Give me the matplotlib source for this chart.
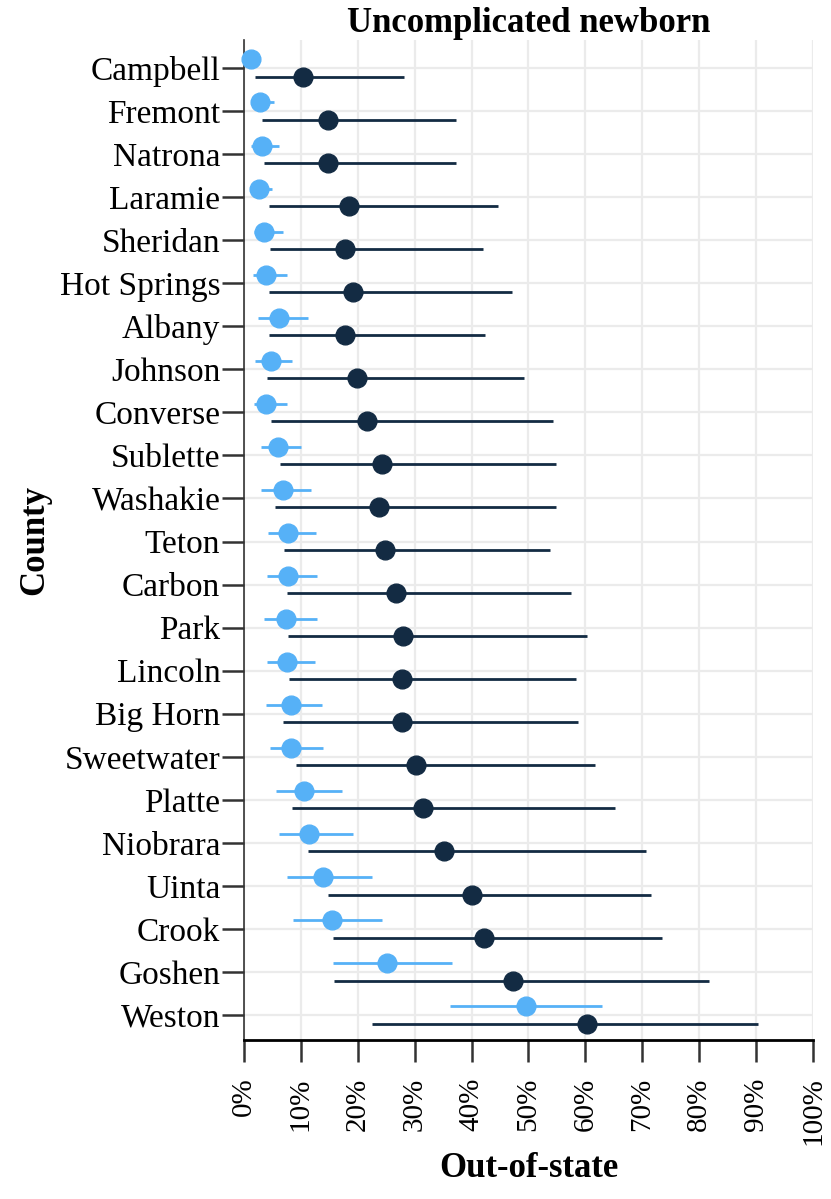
import matplotlib
matplotlib.use("Agg")
import matplotlib.pyplot as plt
import numpy as np

counties = ["Campbell", "Fremont", "Natrona", "Laramie", "Sheridan", "Hot Springs",
            "Albany", "Johnson", "Converse", "Sublette", "Washakie", "Teton", "Carbon",
            "Park", "Lincoln", "Big Horn", "Sweetwater", "Platte", "Niobrara", "Uinta",
            "Crook", "Goshen", "Weston"]

# light series (upper dot in each row)
light_est = [1.3, 2.8, 3.2, 2.6, 3.6, 3.8, 6.1, 4.8, 3.8, 5.9, 6.9, 7.7, 7.7,
             7.4, 7.5, 8.3, 8.3, 10.6, 11.5, 13.9, 15.5, 25.1, 49.6]
light_lo = [0.4, 1.2, 1.3, 1.0, 1.7, 1.5, 2.4, 1.9, 1.8, 3.0, 3.0, 4.2, 4.1,
            3.6, 4.0, 3.8, 4.5, 5.7, 6.1, 7.6, 8.7, 15.7, 36.2]
light_hi = [2.6, 5.3, 6.2, 5.0, 6.9, 7.5, 11.2, 8.4, 7.6, 10.1, 11.8, 12.6, 12.8,
            12.9, 12.5, 13.7, 13.9, 17.2, 19.1, 22.5, 24.3, 36.6, 62.9]

# dark series (lower dot in each row)
dark_est = [10.4, 14.7, 14.7, 18.5, 17.8, 19.2, 17.8, 19.9, 21.6, 24.2, 23.7, 24.8, 26.8,
            28.0, 27.8, 27.8, 30.3, 31.4, 35.2, 40.0, 42.2, 47.3, 60.3]
dark_lo = [2.0, 3.2, 3.6, 4.4, 4.6, 4.4, 4.4, 4.1, 4.7, 6.4, 5.4, 7.0, 7.5,
           7.7, 7.9, 6.9, 9.1, 8.5, 11.2, 14.7, 15.7, 15.8, 22.5]
dark_hi = [28.2, 37.3, 37.3, 44.7, 42.0, 47.1, 42.4, 49.2, 54.3, 54.9, 54.8, 53.8, 57.5,
           60.2, 58.4, 58.7, 61.7, 65.2, 70.7, 71.6, 73.5, 81.7, 90.4]

x_ticks = list(range(0, 101, 10))

light_col = "#56B1F7"
dark_col = "#132B43"
font = ["Liberation Serif", "DejaVu Serif"]
plt.rcParams['font.family'] = font

fig = plt.figure(figsize=(8.31, 11.99), dpi=100)
ax = fig.add_axes([0.2936, 0.1326, 0.6847, 0.834])

ypos = np.arange(len(counties))
off = 0.2

ax.hlines(ypos + off, dark_lo, dark_hi, color=dark_col, lw=2.0, zorder=3)
ax.plot(dark_est, ypos + off, "o", color=dark_col, ms=13.5, zorder=4)
ax.hlines(ypos - off, light_lo, light_hi, color=light_col, lw=2.0, zorder=3)
ax.plot(light_est, ypos - off, "o", color=light_col, ms=13.5, zorder=4, clip_on=False)

ax.set_xlim(0, 100)
ax.set_ylim(len(counties) - 0.42, -0.65)
ax.set_xticks(x_ticks)
ax.set_xticklabels([f"{t}%" for t in x_ticks], rotation=90, fontsize=21)
ax.set_yticks(ypos)
ax.set_yticklabels(counties, fontsize=24)

ax.grid(True, color="#ebebeb", lw=1.6, zorder=0)
ax.set_axisbelow(True)
for s in ["top", "right"]:
    ax.spines[s].set_visible(False)
ax.spines["left"].set_color("#333333")
ax.spines["left"].set_linewidth(1.2)
ax.spines["bottom"].set_color("black")
ax.spines["bottom"].set_linewidth(2)
ax.tick_params(axis="y", length=16, width=1.8, color="#333333", pad=1)
ax.tick_params(axis="x", length=16, width=1.8, color="#333333", pad=11)

ax.set_title("Uncomplicated newborn", fontsize=25, fontweight="bold", pad=1)
ax.set_xlabel("Out-of-state", fontsize=25, fontweight="bold", labelpad=5)
ax.set_ylabel("County", fontsize=25, fontweight="bold", labelpad=6)

fig.savefig("out.png", dpi=100)
